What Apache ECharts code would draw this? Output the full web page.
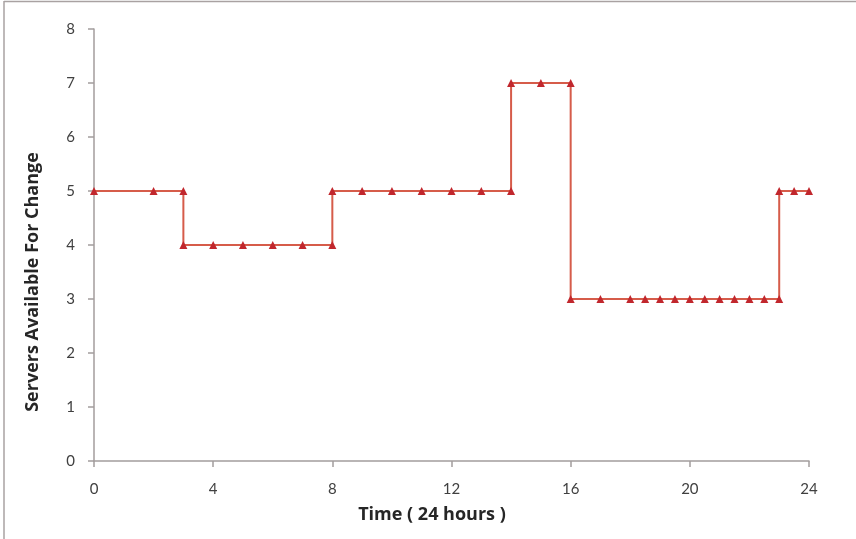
<!DOCTYPE html>
<html>
<head>
<meta charset="utf-8">
<script src="https://cdn.jsdelivr.net/npm/echarts@6/dist/echarts.min.js"></script>
<style>html,body{margin:0;padding:0;background:#fff}#c{width:856px;height:539px}</style>
</head>
<body>
<div id="c"></div>
<script>
var hours = [0,2,3,3,4,5,6,7,8,8,9,10,11,12,13,14,14,15,16,16,17,18,18.5,19,19.5,20,20.5,21,21.5,22,22.5,23,23,23.5,24];
var servers = [5,5,5,4,4,4,4,4,4,5,5,5,5,5,5,5,7,7,7,3,3,3,3,3,3,3,3,3,3,3,3,3,5,5,5];
var xTitle = 'Time ( 24 hours )';
var yTitle = 'Servers Available For Change';

var chart = echarts.init(document.getElementById('c'), null, {renderer:'canvas'});
var axisColor = '#a39d9d';
var labelColor = '#404040';
var font = 'Lato';
var titleFont = 'Open Sans';
chart.setOption({
  animation: false,
  backgroundColor: '#fff',
  grid: {left: 94, right: 47, top: 29, bottom: 78, containLabel: false},
  xAxis: {
    type: 'value', min: 0, max: 24, interval: 4,
    axisLine: {show: true, onZero: false, lineStyle: {color: axisColor, width: 1.5}},
    axisTick: {show: true, length: 6, lineStyle: {color: axisColor, width: 1.5}},
    axisLabel: {margin: 21, fontFamily: font, fontSize: 15, color: labelColor},
    splitLine: {show: false}
  },
  yAxis: {
    type: 'value', min: 0, max: 8, interval: 1,
    axisLine: {show: true, lineStyle: {color: axisColor, width: 1.5}},
    axisTick: {show: true, length: 6, inside: false, lineStyle: {color: axisColor, width: 1.5}},
    axisLabel: {margin: 19, fontFamily: font, fontSize: 15, color: labelColor},
    splitLine: {show: false}
  },
  series: [{
    type: 'line',
    data: hours.map(function(h, i){ return [h, servers[i]]; }),
    lineStyle: {color: '#d65c4a', width: 2},
    symbol: 'triangle', symbolSize: 8,
    itemStyle: {color: '#c1272d'},
    showSymbol: true
  }],
  graphic: [
    {type: 'line', shape: {x1: 4, y1: 1.5, x2: 856, y2: 1.5}, style: {stroke: '#a9a2a2', lineWidth: 1.5}},
    {type: 'line', shape: {x1: 4, y1: 1, x2: 4, y2: 539}, style: {stroke: '#a9a2a2', lineWidth: 1.5}},
    {type: 'text', x: 432, y: 515, style: {text: xTitle, fontFamily: titleFont, fontWeight: 'bold', fontSize: 18, fill: '#262626', align: 'center', verticalAlign: 'middle'}},
    {type: 'text', x: 33, y: 282, rotation: Math.PI / 2, style: {text: yTitle, fontFamily: titleFont, fontWeight: 'bold', fontSize: 18, fill: '#262626', align: 'center', verticalAlign: 'middle'}}
  ]
});
</script>
</body>
</html>
